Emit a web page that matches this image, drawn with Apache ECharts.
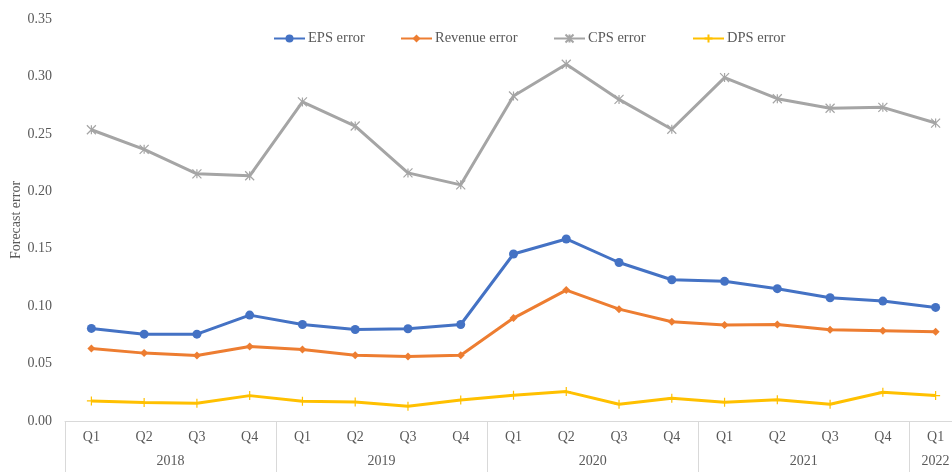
<!DOCTYPE html>
<html>
<head>
<meta charset="utf-8">
<script src="https://cdn.jsdelivr.net/npm/echarts@6/dist/echarts.min.js"></script>
<style>
  html, body { margin: 0; padding: 0; background: #fff; }
  #chart { width: 952px; height: 472px; }
</style>
</head>
<body>
<div id="chart"></div>
<script>
// Quarterly forecast errors, 2018 Q1 – 2022 Q1
const quarters = ['Q1','Q2','Q3','Q4','Q1','Q2','Q3','Q4','Q1','Q2','Q3','Q4','Q1','Q2','Q3','Q4','Q1'];
const years = ['2018', '2019', '2020', '2021', '2022'];
const quartersPerYear = [4, 4, 4, 4, 1];

const epsError = [0.0806, 0.0756, 0.0756, 0.0922, 0.0840, 0.0797, 0.0803, 0.0840,
                  0.1454, 0.1585, 0.1380, 0.1230, 0.1216, 0.1152, 0.1073, 0.1044, 0.0989];
const revenueError = [0.0631, 0.0591, 0.0570, 0.0649, 0.0623, 0.0573, 0.0561, 0.0573,
                      0.0896, 0.1140, 0.0974, 0.0864, 0.0835, 0.0840, 0.0794, 0.0785, 0.0777];
const cpsError = [0.2536, 0.2365, 0.2152, 0.2135, 0.2778, 0.2568, 0.2160, 0.2056,
                  0.2830, 0.3106, 0.2800, 0.2540, 0.2990, 0.2806, 0.2723, 0.2731, 0.2594];
const dpsError = [0.0175, 0.0160, 0.0154, 0.0221, 0.0172, 0.0166, 0.0128, 0.0183,
                  0.0224, 0.0256, 0.0146, 0.0198, 0.0163, 0.0186, 0.0146, 0.0250, 0.0221];

const seriesNames = ['EPS error', 'Revenue error', 'CPS error', 'DPS error'];
const yTicks = { min: 0, max: 0.35, step: 0.05 };

// Year group boundaries and centres, in quarter units
const yearStarts = [];
const yearCentres = [];
let acc = 0;
quartersPerYear.forEach(n => { yearStarts.push(acc); yearCentres.push(acc + n / 2); acc += n; });

const textColor = '#595959';
const frameColor = '#d9d9d9';
const font = '"Liberation Serif", "DejaVu Serif", serif';

const asterisk = 'path://M0,0L10,10M10,0L0,10M5,0L5,10';
const plus = 'path://M5,0L5,10M0,5L10,5';

function lineSeries(name, data, color, symbol, size, stroked) {
  return {
    name, type: 'line', data,
    symbol, symbolSize: size, showSymbol: true,
    lineStyle: { color, width: 3 },
    itemStyle: stroked ? { color, borderColor: color, borderWidth: 1.2 } : { color, borderWidth: 0 },
    emphasis: { disabled: true },
    z: 3
  };
}

// One legend entry per component so each can sit at its own spot
const legendLefts = [268, 395, 548, 687];
const legends = seriesNames.map((n, i) => ({
  top: 26,
  left: legendLefts[i],
  itemWidth: 31,
  itemHeight: 10,
  textStyle: { color: textColor, fontSize: 14.5, fontFamily: font, padding: [0, 0, 0, -2] },
  data: [n]
}));

const chart = echarts.init(document.getElementById('chart'), null, { renderer: 'canvas' });
chart.setOption({
  animation: false,
  backgroundColor: '#fff',
  textStyle: { fontFamily: font },
  legend: legends,
  grid: { left: 65, right: -10, top: 19, bottom: 51, containLabel: false, outerBoundsMode: 'none' },
  xAxis: [
    {
      type: 'category',
      data: quarters,
      boundaryGap: true,
      axisLine: { show: true, lineStyle: { color: frameColor, width: 1 } },
      axisTick: {
        show: true,
        length: 52,
        interval: (idx) => yearStarts.indexOf(idx) >= 0,
        lineStyle: { color: frameColor, width: 1 }
      },
      axisLabel: { color: textColor, fontSize: 14, fontFamily: font, margin: 9, interval: 0 },
      splitLine: { show: false }
    },
    {
      type: 'value',
      position: 'bottom',
      min: 0,
      max: quarters.length,
      axisLine: { show: false },
      axisTick: { show: false },
      splitLine: { show: false },
      axisLabel: {
        color: textColor, fontSize: 14, fontFamily: font, margin: 33,
        customValues: yearCentres,
        showMinLabel: true, showMaxLabel: true,
        formatter: (v) => {
          const i = yearCentres.findIndex(c => Math.abs(c - v) < 1e-6);
          return i >= 0 ? years[i] : '';
        }
      }
    }
  ],
  yAxis: {
    type: 'value',
    min: yTicks.min,
    max: yTicks.max,
    interval: yTicks.step,
    name: 'Forecast error',
    nameLocation: 'middle',
    nameGap: 42,
    nameMoveOverlap: false,
    nameTextStyle: { color: textColor, fontSize: 14, fontFamily: font },
    axisLine: { show: false },
    axisTick: { show: false },
    splitLine: { show: false },
    axisLabel: { color: textColor, fontSize: 14, fontFamily: font, margin: 13, formatter: v => v.toFixed(2) }
  },
  series: [
    lineSeries(seriesNames[0], epsError, '#4472C4', 'circle', 9, false),
    lineSeries(seriesNames[1], revenueError, '#ED7D31', 'diamond', 8, false),
    lineSeries(seriesNames[2], cpsError, '#A5A5A5', asterisk, 9, true),
    lineSeries(seriesNames[3], dpsError, '#FFC000', plus, 9, true)
  ]
});
</script>
</body>
</html>
